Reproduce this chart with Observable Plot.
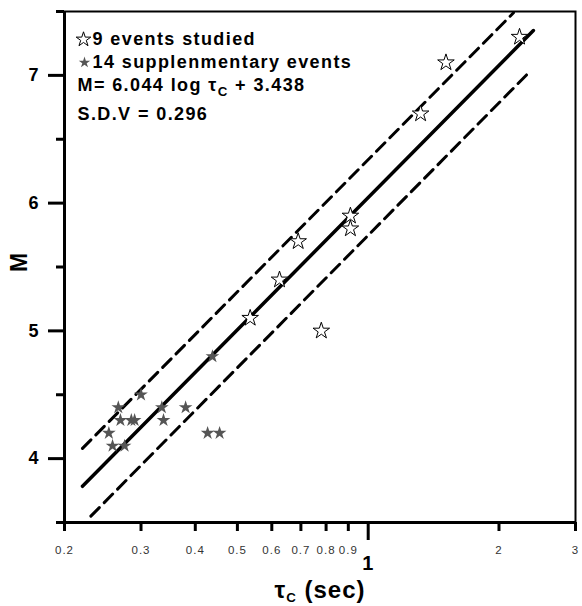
<!DOCTYPE html>
<html>
<head>
<meta charset="utf-8">
<script src="https://cdn.jsdelivr.net/npm/d3@7"></script>
<script src="https://cdn.jsdelivr.net/npm/@observablehq/plot@0.6"></script>
<style>
  html, body { margin: 0; padding: 0; background: #fff; }
  #chart svg { display: block; }
</style>
</head>
<body>
<div id="chart"></div>
<script>
// ---- data ----
const studiedTau = [2.23, 1.51, 1.32, 0.91, 0.91, 0.69, 0.625, 0.535, 0.78];
const studiedM   = [7.3, 7.1, 6.7, 5.9, 5.8, 5.7, 5.4, 5.1, 5.0];

const suppTau = [0.30, 0.266, 0.335, 0.38, 0.269, 0.285, 0.29, 0.338, 0.253, 0.427, 0.455, 0.258, 0.275, 0.438];
const suppM   = [4.5, 4.4, 4.4, 4.4, 4.3, 4.3, 4.3, 4.3, 4.2, 4.2, 4.2, 4.1, 4.1, 4.8];

// regression line and +/- S.D.V band ends
const fitTau   = [0.22, 2.40];
const fitM     = [3.783, 7.351];
const upperTau = [0.22, 2.16];
const upperM   = [4.08, 7.49];
const lowerTau = [0.23, 2.34];
const lowerM   = [3.55, 7.02];

const xDomain = [0.2, 3];
const yDomain = [3.5, 7.5];
const xMinorTicks = [0.2, 0.3, 0.4, 0.5, 0.6, 0.7, 0.8, 0.9, 2, 3];
const xMinorLabels = ["0.2", "0.3", "0.4", "0.5", "0.6", "0.7", "0.8", "0.9", "2", "3"];
const xMajorTicks = [1];
const yMajorTicks = [4, 5, 6, 7];
const yMinorTicks = [3.5, 4.5, 5.5, 6.5, 7.5];

const legendLabels = ["9 events studied", "14 supplenmentary events", "M= 6.044 log τC + 3.438", "S.D.V = 0.296"];
const xLabel = "τC (sec)";
const yLabel = "M";

// ---- tables ----
const studied = studiedTau.map((t, i) => ({tau: t, M: studiedM[i]}));
const supp = suppTau.map((t, i) => ({tau: t, M: suppM[i]}));
const toLine = (xs, ys) => xs.map((t, i) => ({tau: t, M: ys[i]}));
const xMinor = xMinorTicks.map((t, i) => ({tau: t, label: xMinorLabels[i]}));

const legendStyle = {frameAnchor: "top-left", textAnchor: "start", lineAnchor: "middle", fontSize: 18, fontWeight: "bold", fill: "#000"};

const svg = Plot.plot({
  width: 582,
  height: 606,
  marginLeft: 64,
  marginRight: 7,
  marginTop: 11,
  marginBottom: 84,
  style: {fontFamily: "'Liberation Sans', Arial, sans-serif", background: "#fff", color: "#000", letterSpacing: "1px"},
  x: {type: "log", domain: xDomain, label: null},
  y: {domain: yDomain, label: null},
  marks: [
    Plot.frame({stroke: "#000", strokeWidth: 2}),
    Plot.ruleX([xDomain[0]], {stroke: "#000", strokeWidth: 3}),
    Plot.ruleY([yDomain[0]], {stroke: "#000", strokeWidth: 3}),
    Plot.axisX(xMinorTicks, {tickSize: 9, tickFormat: () => "", stroke: "#000", strokeWidth: 3, label: null}),
    Plot.text(xMinor, {x: "tau", text: "label", frameAnchor: "bottom", dy: 23, lineAnchor: "top", textAnchor: "middle", fontSize: 11.5, fill: "#333"}),
    Plot.axisX(xMajorTicks, {tickSize: 18, tickPadding: 15, tickFormat: d => String(d), fontSize: 20, fontWeight: "bold", stroke: "#000", fill: "#000", strokeWidth: 3, label: null}),
    Plot.axisY(yMajorTicks, {tickSize: 16, tickPadding: 9, tickFormat: d => String(d), fontSize: 18, fontWeight: "bold", stroke: "#000", fill: "#000", strokeWidth: 3, label: null}),
    Plot.axisY(yMinorTicks, {tickSize: 8, tickFormat: () => "", stroke: "#000", strokeWidth: 3, label: null}),
    Plot.line(toLine(upperTau, upperM), {x: "tau", y: "M", stroke: "#000", strokeWidth: 3, strokeDasharray: "12,7"}),
    Plot.line(toLine(lowerTau, lowerM), {x: "tau", y: "M", stroke: "#000", strokeWidth: 3, strokeDasharray: "12,7"}),
    Plot.line(toLine(fitTau, fitM), {x: "tau", y: "M", stroke: "#000", strokeWidth: 3.5}),
    Plot.dot(supp, {x: "tau", y: "M", symbol: "star", r: 4.3, fill: "#555", stroke: "none"}),
    Plot.dot(studied, {x: "tau", y: "M", symbol: "star", r: 5.2, fill: "#fff", stroke: "#000", strokeWidth: 1}),
    // legend (inside frame, top-left)
    Plot.dot([0], {frameAnchor: "top-left", dx: 19, dy: 28, symbol: "star", r: 4.6, fill: "#fff", stroke: "#000", strokeWidth: 1}),
    Plot.dot([0], {frameAnchor: "top-left", dx: 20, dy: 51, symbol: "star", r: 3.6, fill: "#555", stroke: "none"}),
    Plot.text([legendLabels[0]], {...legendStyle, text: d => d, dx: 28, dy: 28}),
    Plot.text([legendLabels[1]], {...legendStyle, text: d => d, dx: 28, dy: 51}),
    Plot.text([legendLabels[2]], {...legendStyle, text: d => d, dx: 13, dy: 74}),
    Plot.text([legendLabels[3]], {...legendStyle, text: d => d, dx: 13, dy: 103}),
    // axis titles
    Plot.text([xLabel], {text: d => d, frameAnchor: "bottom", dy: 75, textAnchor: "middle", lineAnchor: "bottom", fontSize: 24, fontWeight: "bold", fill: "#000"}),
    Plot.text([yLabel], {text: d => d, frameAnchor: "left", dx: -45, dy: -5, rotate: -90, textAnchor: "middle", lineAnchor: "middle", fontSize: 23, fontWeight: "bold", fill: "#000"})
  ]
});

// subscript "C" after τ
d3.select(svg).selectAll("text").each(function() {
  const t = this.textContent;
  const i = t.indexOf("τC");
  if (i < 0 || this.querySelector("tspan")) return;
  const fs = parseFloat(getComputedStyle(this).fontSize) || 17;
  const sel = d3.select(this);
  this.textContent = "";
  sel.append("tspan").text(t.slice(0, i + 1));
  sel.append("tspan").attr("dy", (0.28 * fs).toFixed(1)).attr("font-size", (0.78 * fs).toFixed(1)).text("C");
  sel.append("tspan").attr("dy", (-0.28 * fs).toFixed(1)).text(t.slice(i + 2));
});

// slightly wider spacing for the legend lines
d3.select(svg).selectAll("text").filter(function() {
  return legendLabels.some(l => this.textContent === l || this.textContent === l.replace("τC", "τC"));
}).attr("letter-spacing", "1.4px");

document.getElementById("chart").append(svg);
</script>
</body>
</html>
